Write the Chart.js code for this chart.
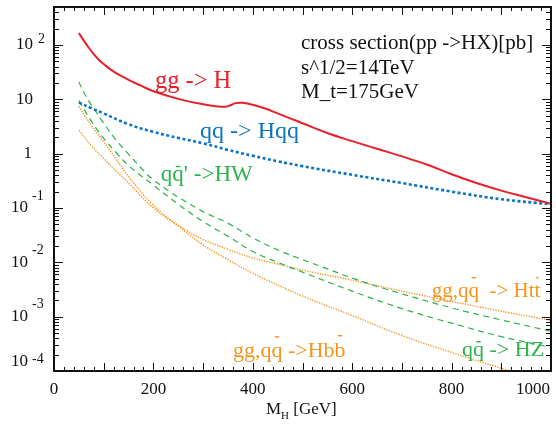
<!DOCTYPE html>
<html><head><meta charset="utf-8">
<script src="https://cdn.jsdelivr.net/npm/chart.js@4/dist/chart.umd.min.js"></script>
<style>html,body{margin:0;padding:0;background:#fff}</style>
</head><body>
<canvas id="c" width="556" height="427"></canvas>
<script>
// ---- data (M_H in GeV, cross section in pb) ----
const massGG  = [50,60,70,80,90,100,120,150,175,200,250,300,330,345,355,365,380,400,425,450,475,500,550,600,650,700,750,800,850,900,950,1000];
const sigmaGG = [166,120,89,67.6,53.5,44.5,32.4,22.9,17.8,14.1,10.2,8.13,7.41,7.33,7.76,8.51,8.61,7.94,6.76,5.50,4.47,3.63,2.40,1.70,1.23,0.891,0.631,0.417,0.288,0.209,0.158,0.120];

const massQQ  = [50,75,100,150,200,250,300,350,400,450,500,600,700,800,900,1000];
const sigmaQQ = [8.7,6.9,5.5,3.47,2.51,1.95,1.55,1.17,0.912,0.724,0.589,0.407,0.288,0.200,0.145,0.117];

const massHW  = [50,60,72,80,100,125,150,182,200,236,250,289,300,348,400,455,500,550,600,656,700,800,900,1000];
const sigmaHW = [20.9,13.5,8.7,6.8,3.63,1.78,0.98,0.468,0.331,0.191,0.158,0.0977,0.0851,0.0537,0.0282,0.0162,0.0112,0.00759,0.00513,0.00347,0.00263,0.00145,0.00087,0.00054];

const massHZ  = [50,75,100,125,150,200,250,300,350,400,450,500,600,700,800,900,1000];
const sigmaHZ = [9.5,3.98,1.91,1.05,0.603,0.263,0.117,0.0562,0.0302,0.0158,0.0100,0.0066,0.00295,0.00141,0.00076,0.00043,0.00027];

const massBB  = [50,75,100,125,150,200,250,300,350,400,500,600,700,800,900,1000];
const sigmaBB = [7.4,3.31,1.66,0.794,0.380,0.112,0.0468,0.0209,0.0112,0.0063,0.0024,0.00105,0.00045,0.00022,0.000112,0.00006];

const massTT  = [50,75,100,125,150,200,250,300,350,400,450,500,600,700,800,900,1000];
const sigmaTT = [2.7,1.41,0.813,0.479,0.288,0.100,0.0479,0.0263,0.0174,0.0120,0.0093,0.0072,0.00468,0.00295,0.00191,0.00126,0.00085];

const xTickValues = [0,200,400,600,800,1000];
const xTickLabels = ['0','200','400','600','800','1000'];
const yDecades = [2,1,0,-1,-2,-3,-4];

const RED='#e8202a', BLUE='#0b74c2', GREEN='#2cb34a', ORANGE='#f7941d';
const SERIF="'Liberation Serif','Times New Roman',serif";

function pts(xs, ys){ return xs.map((x,i)=>({x:x,y:ys[i]})); }

const deco = {
  id:'deco',
  afterDraw(chart){
    const ctx = chart.ctx, a = chart.chartArea, xs = chart.scales.x, ys = chart.scales.y;
    ctx.save();
    ctx.strokeStyle='#111'; ctx.lineWidth=1;
    const line=(x1,y1,x2,y2)=>{ctx.beginPath();ctx.moveTo(x1,y1);ctx.lineTo(x2,y2);ctx.stroke();};
    for(let v=0; v<=1000; v+=20){
      const px = Math.round(xs.getPixelForValue(v))+0.5;
      const L = (v%100===0)?8:4;
      line(px,a.bottom,px,a.bottom-L);
      line(px,a.top,px,a.top+L);
    }
    for(let d=-4; d<=2; d++){
      for(let m=1; m<=9; m++){
        const v = m*Math.pow(10,d);
        if(v>500) continue;
        const py = Math.round(ys.getPixelForValue(v))+0.5;
        const L = (m===1)?9:5;
        line(a.left,py,a.left+L,py);
        line(a.right,py,a.right-L,py);
      }
    }
    ctx.lineWidth=2; ctx.strokeStyle='#111';
    ctx.strokeRect(a.left,a.top,a.right-a.left,a.bottom-a.top);
    // x tick labels
    ctx.fillStyle='#111'; ctx.font='17px '+SERIF; ctx.textBaseline='middle';
    xTickValues.forEach((v,i)=>{
      const px = xs.getPixelForValue(v);
      if(i===xTickValues.length-1){ ctx.textAlign='right'; ctx.fillText(xTickLabels[i], a.right-1, a.bottom+19); }
      else { ctx.textAlign='center'; ctx.fillText(xTickLabels[i], px, a.bottom+19); }
    });
    // y tick labels
    yDecades.forEach(d=>{
      let py = ys.getPixelForValue(Math.pow(10,d));
      ctx.font='17px '+SERIF; ctx.textAlign='right'; ctx.textBaseline='middle';
      if(d===0){ ctx.fillText('1', 32, py); return; }
      if(d===1){ ctx.fillText('10', 33, py); return; }
      if(d===2){ ctx.fillText('10', 33, py); ctx.font='14px '+SERIF; ctx.textAlign='left'; ctx.fillText('2', 38, py-6); return; }
      let pyTxt = py, pyExp = py-12;
      if(d===-4){ pyTxt = py-9; pyExp = py-12; }
      ctx.fillText('10', 28, pyTxt);
      ctx.font='14px '+SERIF; ctx.textAlign='left';
      ctx.fillText(String(d), 32, pyExp);
    });
    // x title M_H [GeV]
    ctx.textAlign='left'; ctx.textBaseline='alphabetic';
    let tx = 266, ty = a.bottom+43;
    ctx.font='17px '+SERIF; ctx.fillText('M', tx, ty); tx += ctx.measureText('M').width;
    ctx.font='11px '+SERIF; ctx.fillText('H', tx, ty+5); tx += ctx.measureText('H').width;
    ctx.font='17px '+SERIF; ctx.fillText(' [GeV]', tx, ty);

    // annotations (placed in data coordinates)
    const P = (m,s)=>[xs.getPixelForValue(m), ys.getPixelForValue(s)];
    function txt(str, m, s, size, color, bars){
      const [x,y] = P(m,s);
      ctx.font = size+'px '+SERIF; ctx.fillStyle=color; ctx.textAlign='left'; ctx.textBaseline='alphabetic';
      ctx.fillText(str, x, y);
      (bars||[]).forEach(b=>{
        const cx = x + ctx.measureText(str.slice(0,b[0])).width;
        const w = ctx.measureText(str[b[0]]).width;
        ctx.fillRect(cx+w*0.3, y - size*b[1], w*0.4, 1.4);
      });
    }
    txt('gg -> H', 203, 16.2, 24.5, RED);
    txt('qq -> Hqq', 294, 1.94, 24, BLUE);
    txt("qq' ->HW", 215, 0.314, 23, GREEN, [[1,0.66]]);
    txt('gg,qq  -> Htt', 760, 0.0023, 21, ORANGE, [[4,0.95],[12,0.95]]);
    txt('gg,qq ->Hbb', 360, 1.81e-4, 22, ORANGE, [[4,0.95],[10,1.0]]);
    txt('qq -> HZ', 821, 1.89e-4, 22, GREEN, [[1,0.68]]);
    const [ix,iy] = P(497, 84.3);
    ctx.fillStyle='#111'; ctx.font='21px '+SERIF;
    ctx.fillText('cross section(pp ->HX)[pb]', ix, iy);
    ctx.fillText('s^1/2=14TeV', ix, iy+24.5);
    ctx.fillText('M_t=175GeV', ix, iy+49);
    ctx.restore();
  }
};

const common = {pointRadius:0, fill:false, tension:0.4};
new Chart(document.getElementById('c'), {
  type:'line',
  data:{ datasets:[
    Object.assign({label:'gg -> H', data:pts(massGG,sigmaGG), borderColor:RED, borderWidth:2}, common),
    Object.assign({label:'qq -> Hqq', data:pts(massQQ,sigmaQQ), borderColor:BLUE, borderWidth:2.6, borderDash:[3,2.5]}, common),
    Object.assign({label:"qq' -> HW", data:pts(massHW,sigmaHW), borderColor:GREEN, borderWidth:1.2, borderDash:[6,4.5]}, common),
    Object.assign({label:'qq -> HZ', data:pts(massHZ,sigmaHZ), borderColor:GREEN, borderWidth:1.2, borderDash:[6,4.5]}, common),
    Object.assign({label:'gg,qq -> Hbb', data:pts(massBB,sigmaBB), borderColor:ORANGE, borderWidth:1.4, borderDash:[1.3,1.3]}, common),
    Object.assign({label:'gg,qq -> Htt', data:pts(massTT,sigmaTT), borderColor:ORANGE, borderWidth:1.4, borderDash:[1.3,1.3]}, common)
  ]},
  options:{
    responsive:false, animation:false, devicePixelRatio:1,
    layout:{padding:{top:7,right:5,left:0,bottom:0}},
    plugins:{legend:{display:false}, tooltip:{enabled:false}},
    scales:{
      x:{type:'linear', min:0, max:1000, grid:{display:false}, border:{display:false}, ticks:{display:false},
         afterFit:(s)=>{s.height=56;}},
      y:{type:'logarithmic', min:1e-4, max:500, grid:{display:false}, border:{display:false}, ticks:{display:false},
         afterFit:(s)=>{s.width=54;}}
    }
  },
  plugins:[deco]
});
</script>
</body></html>
